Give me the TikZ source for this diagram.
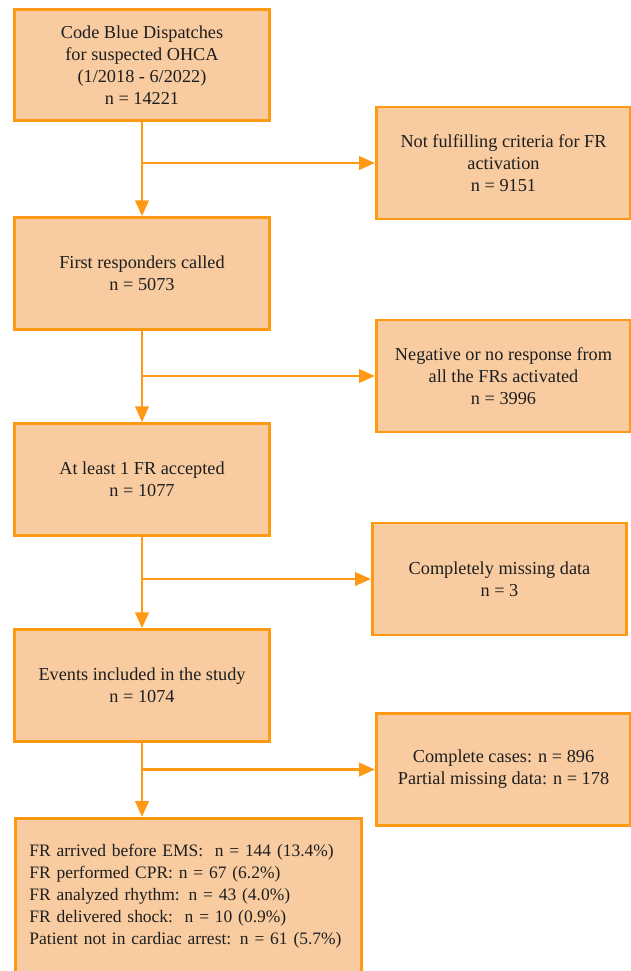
\documentclass[tikz,border=0pt]{standalone}
\usepackage{fontspec}
\setmainfont{Liberation Serif}
\usetikzlibrary{arrows.meta}
\definecolor{boxfill}{RGB}{248,204,160}
\definecolor{boxline}{RGB}{255,153,20}
\definecolor{txt}{RGB}{30,30,30}
\newcommand{\ind}{\hspace*{10.5pt}}
\tikzset{
  flowbox/.style={draw=boxline, fill=boxfill, line width=2.2pt, align=center,
    text=txt, inner sep=0pt, font=\fontsize{13.7pt}{16.5pt}\selectfont},
  mainbox/.style={flowbox, minimum width=191.25pt, minimum height=83.6pt},
  sidebox/.style={flowbox, minimum width=190.5pt, minimum height=84pt},
  conn/.style={draw=boxline, line width=2.2pt, -{Triangle[length=12pt,width=10pt]}}
}
\begin{document}
\begin{tikzpicture}[x=0.75pt,y=-0.75pt]
\useasboundingbox (0,0) rectangle (631,971);
\clip (0,0) rectangle (631,971);
% main column
\node[mainbox] (b1) at (142,65) {Code Blue Dispatches\\for suspected OHCA\\(1/2018 - 6/2022)\\n = 14221};
\node[mainbox] (b2) at (142,273.5) {First responders called\\n = 5073};
\node[mainbox] (b3) at (142,479.5) {At least 1 FR accepted\\n = 1077};
\node[mainbox] (b4) at (142,685.5) {Events included in the study\\n = 1074};
\node[flowbox, anchor=north west, align=left, text width=259.5pt,
      inner xsep=0pt, inner ysep=19pt, font=\fontsize{13.1pt}{16.5pt}\selectfont] (b5) at (14,817)
  {\ind FR arrived before EMS:\ \ n = 144 (13.4\%)\\
   \ind FR performed CPR: n = 67 (6.2\%)\\
   \ind FR analyzed rhythm: n = 43 (4.0\%)\\
   \ind FR delivered shock:\ \ n = 10 (0.9\%)\\
   \ind Patient not in cardiac arrest: n = 61 (5.7\%)};
% side boxes
\node[sidebox] (r1) at (503.5,163) {Not fulfilling criteria for FR\\activation\\n = 9151};
\node[sidebox] (r2) at (503.5,376) {Negative or no response from\\all the FRs activated\\n = 3996};
\node[sidebox] (r3) at (499.5,579) {Completely missing data\\n = 3};
\node[sidebox] (r4) at (503.5,769.5) {Complete cases: n = 896\\Partial missing data: n = 178};
% junctions
\coordinate (j1) at (b1.south |- r1.west);
\coordinate (j2) at (b2.south |- r2.west);
\coordinate (j3) at (b3.south |- r3.west);
\coordinate (j4) at (b4.south |- r4.west);
% connectors
\draw[conn] (b1.south) -- (b2.north);
\draw[conn] (b2.south) -- (b3.north);
\draw[conn] (b3.south) -- (b4.north);
\draw[conn] (b4.south) -- (b4.south |- b5.north);
\draw[conn] (j1) -- (r1.west);
\draw[conn] (j2) -- (r2.west);
\draw[conn] (j3) -- (r3.west);
\draw[conn] (j4) -- (r4.west);
\end{tikzpicture}
\end{document}
